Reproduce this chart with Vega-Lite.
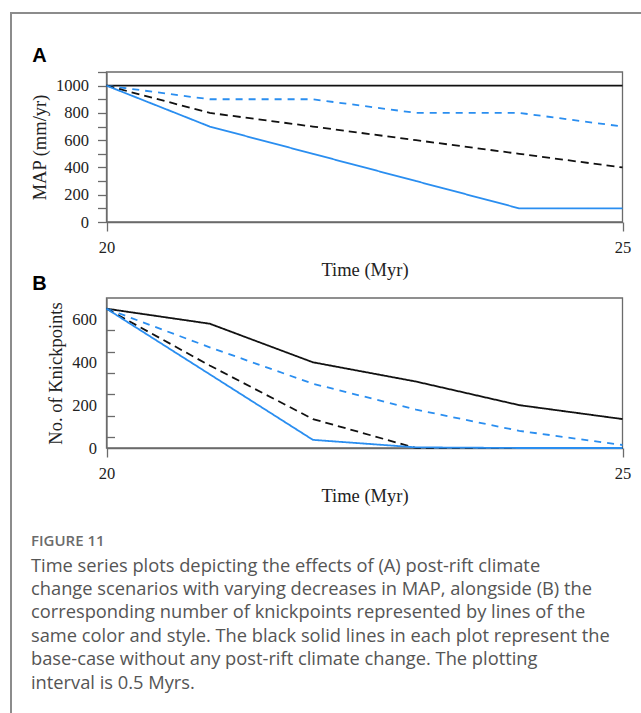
{
  "$schema": "https://vega.github.io/schema/vega-lite/v6.json",
  "width": 632,
  "height": 702,
  "autosize": "none",
  "padding": {"left": 11, "top": 13, "right": 0, "bottom": 0},
  "background": "white",
  "config": {
    "view": {"stroke": "#8c8c8c", "strokeWidth": 2},
    "axis": {
      "grid": false,
      "domainColor": "#6b6b6b",
      "domainWidth": 1.3,
      "tickColor": "#6b6b6b",
      "tickWidth": 1.3,
      "labelFont": "Liberation Serif",
      "labelFontSize": 16.5,
      "labelColor": "#222222",
      "titleFont": "Liberation Serif",
      "titleFontSize": 18.5,
      "titleFontWeight": "normal",
      "titleColor": "#222222"
    }
  },
  "title": {
    "text": "FIGURE 11",
    "subtitle": [
      "Time series plots depicting the effects of (A) post-rift climate",
      "change scenarios with varying decreases in MAP, alongside (B) the",
      "corresponding number of knickpoints represented by lines of the",
      "same color and style. The black solid lines in each plot represent the",
      "base-case without any post-rift climate change. The plotting",
      "interval is 0.5 Myrs."
    ],
    "orient": "top",
    "anchor": "start",
    "frame": "group",
    "offset": -679,
    "dx": 20,
    "font": "Open Sans",
    "fontSize": 15,
    "fontWeight": 600,
    "color": "#6b6b6b",
    "subtitleFont": "Open Sans",
    "subtitleFontSize": 18.3,
    "subtitleColor": "#555555",
    "subtitleLineHeight": 23.4,
    "subtitlePadding": 9
  },
  "datasets": {
    "mapA": [
      {"time": 20, "scenario": "No change", "map": 1000},
      {"time": 21, "scenario": "No change", "map": 1000},
      {"time": 22, "scenario": "No change", "map": 1000},
      {"time": 23, "scenario": "No change", "map": 1000},
      {"time": 24, "scenario": "No change", "map": 1000},
      {"time": 25, "scenario": "No change", "map": 1000},
      {"time": 20, "scenario": "30% decrease", "map": 1000},
      {"time": 21, "scenario": "30% decrease", "map": 900},
      {"time": 22, "scenario": "30% decrease", "map": 900},
      {"time": 23, "scenario": "30% decrease", "map": 800},
      {"time": 24, "scenario": "30% decrease", "map": 800},
      {"time": 25, "scenario": "30% decrease", "map": 700},
      {"time": 20, "scenario": "60% decrease", "map": 1000},
      {"time": 21, "scenario": "60% decrease", "map": 800},
      {"time": 22, "scenario": "60% decrease", "map": 700},
      {"time": 23, "scenario": "60% decrease", "map": 600},
      {"time": 24, "scenario": "60% decrease", "map": 500},
      {"time": 25, "scenario": "60% decrease", "map": 400},
      {"time": 20, "scenario": "90% decrease", "map": 1000},
      {"time": 21, "scenario": "90% decrease", "map": 700},
      {"time": 22, "scenario": "90% decrease", "map": 500},
      {"time": 23, "scenario": "90% decrease", "map": 300},
      {"time": 24, "scenario": "90% decrease", "map": 100},
      {"time": 25, "scenario": "90% decrease", "map": 100}
    ],
    "knickB": [
      {"time": 20, "scenario": "No change", "knickpoints": 650},
      {"time": 21, "scenario": "No change", "knickpoints": 580},
      {"time": 22, "scenario": "No change", "knickpoints": 400},
      {"time": 23, "scenario": "No change", "knickpoints": 310},
      {"time": 24, "scenario": "No change", "knickpoints": 200},
      {"time": 25, "scenario": "No change", "knickpoints": 135},
      {"time": 20, "scenario": "30% decrease", "knickpoints": 650},
      {"time": 21, "scenario": "30% decrease", "knickpoints": 470},
      {"time": 22, "scenario": "30% decrease", "knickpoints": 300},
      {"time": 23, "scenario": "30% decrease", "knickpoints": 179},
      {"time": 24, "scenario": "30% decrease", "knickpoints": 80},
      {"time": 25, "scenario": "30% decrease", "knickpoints": 14},
      {"time": 20, "scenario": "60% decrease", "knickpoints": 650},
      {"time": 21, "scenario": "60% decrease", "knickpoints": 385},
      {"time": 22, "scenario": "60% decrease", "knickpoints": 135},
      {"time": 23, "scenario": "60% decrease", "knickpoints": 0},
      {"time": 24, "scenario": "60% decrease", "knickpoints": 0},
      {"time": 25, "scenario": "60% decrease", "knickpoints": 0},
      {"time": 20, "scenario": "90% decrease", "knickpoints": 650},
      {"time": 21, "scenario": "90% decrease", "knickpoints": 344},
      {"time": 22, "scenario": "90% decrease", "knickpoints": 38},
      {"time": 23, "scenario": "90% decrease", "knickpoints": 3},
      {"time": 24, "scenario": "90% decrease", "knickpoints": 0},
      {"time": 25, "scenario": "90% decrease", "knickpoints": 0}
    ]
  },
  "layer": [
    {
      "layer": [
        {
          "data": {"values": [{}]},
          "mark": {"type": "rect", "fill": null, "stroke": "#6b6b6b", "strokeWidth": 1.3},
          "encoding": {
            "x": {"datum": 20, "type": "quantitative", "scale": {"domain": [20, 25], "range": [95.5, 611.5], "zero": false, "nice": false}},
            "x2": {"datum": 25},
            "y": {"datum": 0, "type": "quantitative", "scale": {"domain": [0, 1100], "range": [209, 59], "zero": false, "nice": false}},
            "y2": {"datum": 1100}
          }
        },
        {
          "data": {"name": "mapA"},
          "mark": {"type": "line", "strokeWidth": 1.8},
          "encoding": {
            "x": {
              "field": "time", "type": "quantitative",
              "scale": {"domain": [20, 25], "range": [95.5, 611.5], "zero": false, "nice": false},
              "axis": {"orient": "bottom", "offset": -493, "values": [20, 25], "format": "d", "tickSize": 9, "labelPadding": 8, "labelFlush": false, "labelFont": "Liberation Serif", "labelFontSize": 16.5, "title": "Time (Myr)", "titlePadding": 5}
            },
            "y": {
              "field": "map", "type": "quantitative",
              "scale": {"domain": [0, 1100], "range": [209, 59], "zero": false, "nice": false},
              "axis": {"orient": "left", "offset": -95.5, "values": [0, 100, 200, 300, 400, 500, 600, 700, 800, 900, 1000, 1100], "format": "d", "tickSize": 9, "labelPadding": 9, "labelFont": "Liberation Serif", "labelFontSize": 16.5, "labelExpr": "datum.value % 200 === 0 && datum.value <= 1000 ? datum.label : ''", "title": "MAP (mm/yr)", "titlePadding": 6}
            },
            "color": {
              "field": "scenario", "type": "nominal",
              "scale": {"domain": ["No change", "30% decrease", "60% decrease", "90% decrease"], "range": ["#111111", "#2a8ef0", "#111111", "#2a8ef0"]},
              "legend": null
            },
            "strokeDash": {
              "field": "scenario", "type": "nominal",
              "scale": {"domain": ["No change", "30% decrease", "60% decrease", "90% decrease"], "range": [[1, 0], [7, 6], [8, 5], [1, 0]]},
              "legend": null
            }
          }
        },
        {
          "data": {"values": [{"panel": "A"}]},
          "mark": {"type": "text", "font": "Liberation Sans", "fontWeight": "bold", "fontSize": 20, "align": "center", "baseline": "alphabetic", "color": "#000000"},
          "encoding": {
            "x": {"datum": 19.35, "type": "quantitative", "scale": {"domain": [20, 25], "range": [95.5, 611.5], "zero": false, "nice": false}},
            "y": {"datum": 1173, "type": "quantitative", "scale": {"domain": [0, 1100], "range": [209, 59], "zero": false, "nice": false}},
            "text": {"field": "panel"}
          }
        }
      ]
    },
    {
      "layer": [
        {
          "data": {"values": [{}]},
          "mark": {"type": "rect", "fill": null, "stroke": "#6b6b6b", "strokeWidth": 1.3},
          "encoding": {
            "x": {"datum": 20, "type": "quantitative", "scale": {"domain": [20, 25], "range": [95.5, 611.5], "zero": false, "nice": false}},
            "x2": {"datum": 25},
            "y": {"datum": 0, "type": "quantitative", "scale": {"domain": [0, 700], "range": [435, 285], "zero": false, "nice": false}},
            "y2": {"datum": 700}
          }
        },
        {
          "data": {"name": "knickB"},
          "mark": {"type": "line", "strokeWidth": 1.8},
          "encoding": {
            "x": {
              "field": "time", "type": "quantitative",
              "scale": {"domain": [20, 25], "range": [95.5, 611.5], "zero": false, "nice": false},
              "axis": {"orient": "bottom", "offset": -267, "values": [20, 25], "format": "d", "tickSize": 9, "labelPadding": 8, "labelFlush": false, "labelFont": "Liberation Serif", "labelFontSize": 16.5, "title": "Time (Myr)", "titlePadding": 5}
            },
            "y": {
              "field": "knickpoints", "type": "quantitative",
              "scale": {"domain": [0, 700], "range": [435, 285], "zero": false, "nice": false},
              "axis": {"orient": "left", "offset": -95.5, "values": [0, 50, 100, 150, 200, 250, 300, 350, 400, 450, 500, 550, 600, 650, 700], "format": "d", "tickSize": -8, "labelPadding": 18, "labelFont": "Liberation Serif", "labelFontSize": 16.5, "tickOpacity": {"condition": {"test": "datum.value % 100 === 50", "value": 1}, "value": 0}, "labelExpr": "datum.value % 200 === 0 ? datum.label : ''", "title": "No. of Knickpoints", "titlePadding": 6}
            },
            "color": {
              "field": "scenario", "type": "nominal",
              "scale": {"domain": ["No change", "30% decrease", "60% decrease", "90% decrease"], "range": ["#111111", "#2a8ef0", "#111111", "#2a8ef0"]},
              "legend": null
            },
            "strokeDash": {
              "field": "scenario", "type": "nominal",
              "scale": {"domain": ["No change", "30% decrease", "60% decrease", "90% decrease"], "range": [[1, 0], [7, 6], [8, 5], [1, 0]]},
              "legend": null
            }
          }
        },
        {
          "data": {"values": [{"panel": "B"}]},
          "mark": {"type": "text", "font": "Liberation Sans", "fontWeight": "bold", "fontSize": 20, "align": "center", "baseline": "alphabetic", "color": "#000000"},
          "encoding": {
            "x": {"datum": 19.35, "type": "quantitative", "scale": {"domain": [20, 25], "range": [95.5, 611.5], "zero": false, "nice": false}},
            "y": {"datum": 737, "type": "quantitative", "scale": {"domain": [0, 700], "range": [435, 285], "zero": false, "nice": false}},
            "text": {"field": "panel"}
          }
        }
      ]
    }
  ],
  "resolve": {
    "scale": {"x": "independent", "y": "independent"},
    "axis": {"x": "independent", "y": "independent"}
  }
}
